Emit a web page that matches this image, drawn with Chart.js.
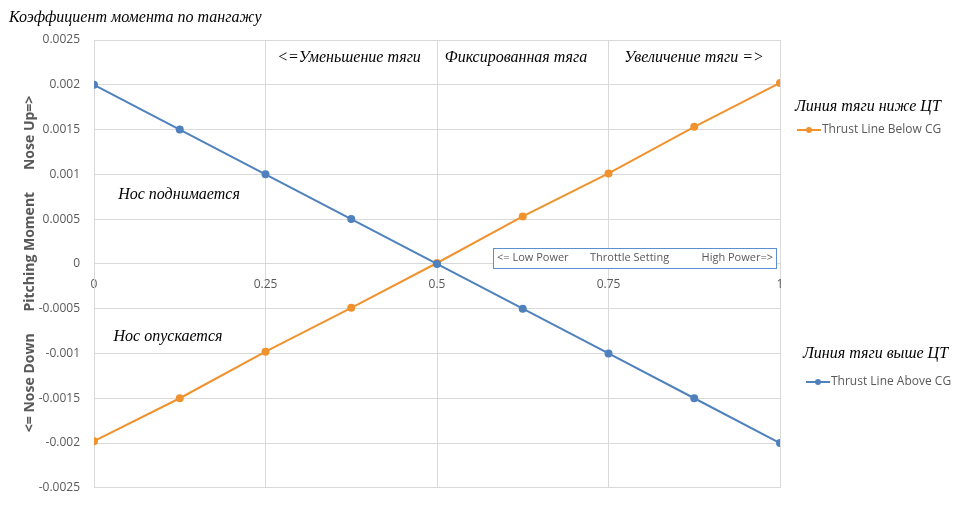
<!DOCTYPE html>
<html>
<head>
<meta charset="utf-8">
<script src="https://cdn.jsdelivr.net/npm/chart.js@4"></script>
<style>
  html, body { margin: 0; padding: 0; background: #fff; }
  #wrap { width: 974px; height: 509px; }
</style>
</head>
<body>
<div id="wrap"><canvas id="chart" width="974" height="509"></canvas></div>
<script>
// throttle setting on x, pitching moment coefficient on y
const throttle = [0, 0.125, 0.25, 0.375, 0.5, 0.625, 0.75, 0.875, 1];
const thrustAbove = [0.002, 0.0015, 0.001, 0.0005, 0, -0.0005, -0.001, -0.0015, -0.002];
const thrustBelow = [-0.00198, -0.0015, -0.00098, -0.00049, 0.00001, 0.00053, 0.00101, 0.00153, 0.00202];
const xTicks = [0, 0.25, 0.5, 0.75, 1];
const yTicks = [-0.0025, -0.002, -0.0015, -0.001, -0.0005, 0, 0.0005, 0.001, 0.0015, 0.002, 0.0025];

const BLUE = '#4f81bd';
const ORANGE = '#f0922e';
const GRID = '#d9d9d9';
const TICK = '#595959';
const SERIF = 'italic 16px "Liberation Serif", "DejaVu Serif", serif';

const toPoints = (ys) => ys.map((y, i) => ({ x: throttle[i], y }));

function fmt(v) {
  return String(Number(Number(v).toFixed(4)));
}

// ========== TEXT OVERLAYS ==========
const overlay = {
  id: 'overlay',
  afterDraw(chart) {
    const ctx = chart.ctx;
    ctx.save();
    ctx.textBaseline = 'middle';
    ctx.fillStyle = '#000';
    ctx.font = SERIF;

    ctx.textAlign = 'left';
    ctx.fillText('Коэффициент момента по тангажу', 9, 18);

    ctx.textAlign = 'center';
    ctx.fillText('<=Уменьшение тяги', 349, 58);
    ctx.fillText('Фиксированная тяга', 516, 58);
    ctx.fillText('Увеличение тяги =>', 694, 58);
    ctx.fillText('Нос поднимается', 179, 195);
    ctx.fillText('Нос опускается', 168, 337);

    ctx.textAlign = 'left';
    ctx.fillText('Линия тяги ниже ЦТ', 795, 107);
    ctx.fillText('Линия тяги выше ЦТ', 803, 354);

    // legend entries
    const legend = [
      { label: 'Thrust Line Below CG', color: ORANGE, x: 797, y: 130 },
      { label: 'Thrust Line Above CG', color: BLUE, x: 806, y: 382 }
    ];
    legend.forEach(item => {
      ctx.strokeStyle = item.color;
      ctx.lineWidth = 2;
      ctx.beginPath();
      ctx.moveTo(item.x, item.y);
      ctx.lineTo(item.x + 24, item.y);
      ctx.stroke();
      ctx.fillStyle = item.color;
      ctx.beginPath();
      ctx.arc(item.x + 12, item.y, 3, 0, Math.PI * 2);
      ctx.fill();
      ctx.fillStyle = TICK;
      ctx.font = '12px "Open Sans", sans-serif';
      ctx.fillText(item.label, item.x + 25, item.y);
    });

    // throttle setting box
    ctx.fillStyle = '#fff';
    ctx.fillRect(493, 248, 283, 20);
    ctx.strokeStyle = '#5b8fd0';
    ctx.lineWidth = 1;
    ctx.strokeRect(493.5, 248.5, 283, 20);
    ctx.fillStyle = TICK;
    ctx.font = '11px "Open Sans", sans-serif';
    ctx.textAlign = 'left';
    ctx.fillText('<= Low Power', 497, 258);
    ctx.fillText('Throttle Setting', 590, 258);
    ctx.textAlign = 'right';
    ctx.fillText('High Power=>', 773, 258);

    ctx.restore();
  }
};

// ========== CHART ==========
new Chart(document.getElementById('chart'), {
  type: 'line',
  data: {
    datasets: [
      {
        label: 'Thrust Line Above CG',
        data: toPoints(thrustAbove),
        borderColor: BLUE,
        backgroundColor: BLUE,
        borderWidth: 2,
        pointRadius: 3,
        pointHoverRadius: 3,
        tension: 0
      },
      {
        label: 'Thrust Line Below CG',
        data: toPoints(thrustBelow),
        borderColor: ORANGE,
        backgroundColor: ORANGE,
        borderWidth: 2,
        pointRadius: 3,
        pointHoverRadius: 3,
        tension: 0
      }
    ]
  },
  options: {
    responsive: false,
    animation: false,
    layout: { padding: { top: 40, right: 194, bottom: 16, left: 0 } },
    plugins: {
      legend: { display: false },
      title: { display: false },
      tooltip: { enabled: false }
    },
    scales: {
      x: {
        type: 'linear',
        position: { y: 0 },
        min: 0,
        max: 1,
        afterBuildTicks: (scale) => { scale.ticks = xTicks.map(v => ({ value: v })); },
        grid: { color: GRID, drawTicks: false },
        border: { color: GRID },
        ticks: {
          color: TICK,
          font: { family: 'Open Sans', size: 12 },
          padding: 13,
          maxRotation: 0,
          callback: (v) => fmt(v)
        }
      },
      y: {
        type: 'linear',
        min: -0.0025,
        max: 0.0025,
        afterBuildTicks: (scale) => { scale.ticks = yTicks.map(v => ({ value: v })); },
        afterFit: (scale) => { scale.width = 94; },
        grid: { color: GRID, drawTicks: false },
        border: { color: GRID },
        ticks: {
          color: TICK,
          font: { family: 'Open Sans', size: 12 },
          padding: 14,
          callback: (v) => fmt(v)
        },
        title: {
          display: true,
          text: '<= Nose Down      Pitching Moment      Nose Up=>',
          color: TICK,
          font: { family: 'Open Sans', size: 14, weight: 'bold' },
          padding: { top: 22, bottom: 0 }
        }
      }
    }
  },
  plugins: [overlay]
});
</script>
</body>
</html>
